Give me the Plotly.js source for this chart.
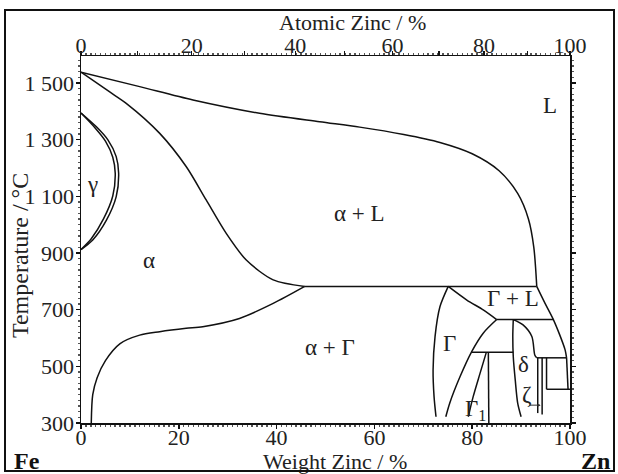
<!DOCTYPE html>
<html>
<head>
<meta charset="utf-8">
<script src="https://cdn.plot.ly/plotly-3.0.1.min.js"></script>
<style>
  html, body { margin: 0; padding: 0; background: #fff; }
  #chart { width: 618px; height: 474px; }
  #frame { position: absolute; left: 4px; top: 9px; width: 611px; height: 463px;
           border: 2px solid #111; box-sizing: border-box; pointer-events: none; }
</style>
</head>
<body>
<div id="chart"></div>
<div id="frame"></div>
<script>
// Fe–Zn binary phase diagram: composition in weight % Zn, temperature in °C.

// Liquidus from pure Fe down to the 782 °C peritectic
const liquidusWt = [0, 12.0, 22.9, 36.5, 48.8, 57.0, 66.0, 73.4, 80.0, 85.5, 89.3, 91.5, 92.6, 93.2];
const liquidusT  = [1538, 1487, 1440, 1393, 1363, 1344, 1318, 1290, 1250, 1190, 1110, 1020, 920, 782];

// Liquidus on the Zn-rich side, below 782 °C
const liqZnWt = [93.2, 94.9, 96.6, 97.9, 99.0, 99.3];
const liqZnT  = [782, 722, 665, 611, 558, 530];

// α solidus
const solidusWt = [0, 5.8, 9.25, 16.1, 21.5, 25.6, 29.7, 33.8, 39.3, 45.75];
const solidusT  = [1538, 1469, 1428, 1322, 1205, 1087, 969, 875, 805, 782];

// α solvus (α / α + Γ)
const solvusWt = [45.75, 39.3, 32.4, 24.9, 21.5, 16.1, 12.0, 8.0, 5.0, 3.3, 2.4, 2.1];
const solvusT  = [782, 722, 669, 640, 634, 622, 610, 580, 520, 460, 400, 300];

// γ loop (outer and inner boundaries)
const gammaOutWt = [0, 3.1, 5.5, 7.2, 7.7, 7.2, 5.2, 2.4, 0];
const gammaOutT  = [1394, 1346, 1299, 1240, 1181, 1099, 1016, 946, 912];
const gammaInWt  = [0, 2.8, 5.0, 6.5, 7.0, 6.5, 4.6, 2.1, 0];
const gammaInT   = [1394, 1343, 1295, 1238, 1181, 1101, 1020, 950, 912];

// Γ phase boundaries
const gamLeftWt  = [75.1, 73.4, 72.4, 72.0, 72.2, 72.6];
const gamLeftT   = [782, 710, 605, 487, 393, 322];
const gamLiqWt   = [75.1, 78.9, 82.25, 85.0];
const gamLiqT    = [782, 734, 699, 665];
const gamRightWt = [85.0, 82.25, 79.9, 77.5, 75.4, 74.6];
const gamRightT  = [665, 617, 552, 463, 370, 322];

// Γ1 phase boundaries
const gam1LeftWt  = [82.9, 81.6, 80.2, 79.2];
const gam1LeftT   = [550, 475, 393, 322];
const gam1RightWt = [83.3, 83.4];
const gam1RightT  = [550, 300];

// δ phase boundaries
const deltaLeftWt  = [88.4, 88.3, 88.4, 88.8, 89.3, 90.0];
const deltaLeftT   = [665, 605, 534, 452, 370, 322];
const deltaRightWt = [88.4, 90.4, 92.2, 92.8, 93.2];
const deltaRightT  = [665, 646, 605, 540, 530];

// ζ phase boundaries
const zetaLeftWt  = [93.4, 93.4];
const zetaLeftT   = [530, 335];
const zetaRightWt = [94.3, 94.3];
const zetaRightT  = [530, 330];

// ζ + L field: left side and Zn-side liquidus between 530 °C and 419 °C
const zetaLiqWt = [95.2, 95.2];
const zetaLiqT  = [530, 419];
const znSideWt  = [99.3, 99.6];
const znSideT   = [530, 419];

// Invariant horizontals: [left wt, right wt, temperature]
const isotherms = [
  [45.75, 93.2, 782],
  [85.0, 96.6, 665],
  [79.9, 88.4, 550],
  [93.2, 99.3, 530],
  [95.2, 100, 419]
];

// Phase-field labels
const labelText = ['L', 'α + L', 'α', 'γ', 'α + Γ', 'Γ + L', 'Γ', 'δ', 'ζ', 'Γ<sub>1</sub>'];
const labelWt   = [96.0, 57.0, 14.0, 2.4, 50.9, 88.4, 75.4, 90.4, 91.3, 80.6];
const labelT    = [1422, 1041, 875, 1140, 565, 740, 581, 505, 399, 346];

// Pointer to the narrow ζ field
const zetaPointer = { wt: 94.0, t: 363 };

// Axis ticks
const tempTicks  = [300, 500, 700, 900, 1100, 1300, 1500];
const tempLabels = ['300', '500', '700', '900', '1 100', '1 300', '1 500'];
const wtTicks    = [0, 20, 40, 60, 80, 100];
const atomicTicks  = [0, 10, 20, 30, 40, 50, 60, 70, 80, 90, 100];
const atomicLabels = ['0', ' ', '20', ' ', '40', ' ', '60', ' ', '80', ' ', '100'];

// atomic % Zn -> weight % Zn
const M_ZN = 65.38, M_FE = 55.845;
function atomicToWeight(a) {
  return 100 * a * M_ZN / (a * M_ZN + (100 - a) * M_FE);
}

const LINE = { color: '#111', width: 1.5 };
function curve(x, y, smooth, axis) {
  return {
    x: x, y: y, type: 'scatter', mode: 'lines', xaxis: axis || 'x',
    line: Object.assign({}, LINE, smooth ? { shape: 'spline', smoothing: 0.8 } : {}),
    hoverinfo: 'skip', showlegend: false
  };
}

const traces = [
  curve(liquidusWt, liquidusT, true),
  curve(liqZnWt, liqZnT, true),
  curve(znSideWt, znSideT, false),
  curve(solidusWt, solidusT, true),
  curve(solvusWt, solvusT, true),
  curve(gammaOutWt, gammaOutT, true),
  curve(gammaInWt, gammaInT, true),
  curve(gamLeftWt, gamLeftT, true),
  curve(gamLiqWt, gamLiqT, true),
  curve(gamRightWt, gamRightT, true),
  curve(gam1LeftWt, gam1LeftT, true),
  curve(gam1RightWt, gam1RightT, false),
  curve(deltaLeftWt, deltaLeftT, true),
  curve(deltaRightWt, deltaRightT, true),
  curve(zetaLeftWt, zetaLeftT, false),
  curve(zetaRightWt, zetaRightT, false),
  curve(zetaLiqWt, zetaLiqT, false)
];
isotherms.forEach(function (h, i) {
  traces.push(curve([h[0], h[1]], [h[2], h[2]], false, i === 0 ? 'x2' : 'x'));
});

const SERIF = 'Liberation Serif, Times New Roman, serif';
const INK = '#222';
const annotations = labelText.map(function (t, i) {
  return { x: labelWt[i], y: labelT[i], xref: 'x', yref: 'y', text: t, showarrow: false,
           xanchor: 'center', yanchor: 'middle',
           font: { family: SERIF, size: 23, color: INK } };
});
annotations.push({
  x: zetaPointer.wt, y: zetaPointer.t, xref: 'x', yref: 'y', text: '',
  showarrow: true, ax: -13, ay: 0, arrowhead: 2, arrowsize: 0.6, arrowwidth: 1, arrowcolor: '#333'
});
// Axis titles and element symbols
function note(text, x, y, xs, ys, extra) {
  return Object.assign({ xref: 'paper', yref: 'paper', x: x, y: y, xshift: xs, yshift: ys,
    text: text, showarrow: false, xanchor: 'center', yanchor: 'middle',
    font: { family: SERIF, size: 23, color: INK } }, extra || {});
}
annotations.push(
  note('Atomic Zinc / %', 0.556, 1, 0, 34, { font: { family: SERIF, size: 22, color: INK } }),
  note('Weight Zinc / %', 0.52, 0, 0, -38, { font: { family: SERIF, size: 22, color: INK } }),
  note('Temperature / °C', 0, 0.455, -61, 0, { textangle: -90, font: { family: SERIF, size: 24, color: INK } }),
  note('<b>Fe</b>', 0, 0, -54, -38, { font: { family: SERIF, size: 24, color: '#111' } }),
  note('<b>Zn</b>', 1, 0, 25, -38, { font: { family: SERIF, size: 24, color: '#111' } })
);

const tickFont = { family: SERIF, size: 22, color: INK };
const axisCommon = {
  showline: true, linecolor: '#111', linewidth: 1.5, showgrid: false, zeroline: false,
  tickcolor: '#111', tickwidth: 1.5, tickfont: tickFont
};
const layout = {
  width: 618, height: 474,
  margin: { l: 81, r: 48, t: 56, b: 51 },
  paper_bgcolor: '#fff', plot_bgcolor: '#fff',
  showlegend: false,
  xaxis: Object.assign({}, axisCommon, {
    range: [0, 100], tickvals: wtTicks, ticks: 'outside', ticklen: 4, ticklabelstandoff: -10,
    minor: { dtick: 1, ticks: 'outside', ticklen: 2, tickcolor: '#555' }
  }),
  xaxis2: Object.assign({}, axisCommon, {
    overlaying: 'x', side: 'top', range: [0, 100],
    tickvals: atomicTicks.map(atomicToWeight), ticktext: atomicLabels,
    ticks: 'outside', ticklen: 4, ticklabelstandoff: -11,
    minor: { dtick: 1, ticks: 'outside', ticklen: 2, tickcolor: '#555' }
  }),
  yaxis: Object.assign({}, axisCommon, {
    range: [300, 1595], tickvals: tempTicks, ticktext: tempLabels,
    ticks: 'outside', ticklen: 4, mirror: 'ticks', ticklabelstandoff: -3,
    minor: { dtick: 20, ticks: 'outside', ticklen: 2, tickcolor: '#555' }
  }),
  annotations: annotations
};

Plotly.newPlot('chart', traces, layout, { staticPlot: true, displayModeBar: false });
</script>
</body>
</html>
